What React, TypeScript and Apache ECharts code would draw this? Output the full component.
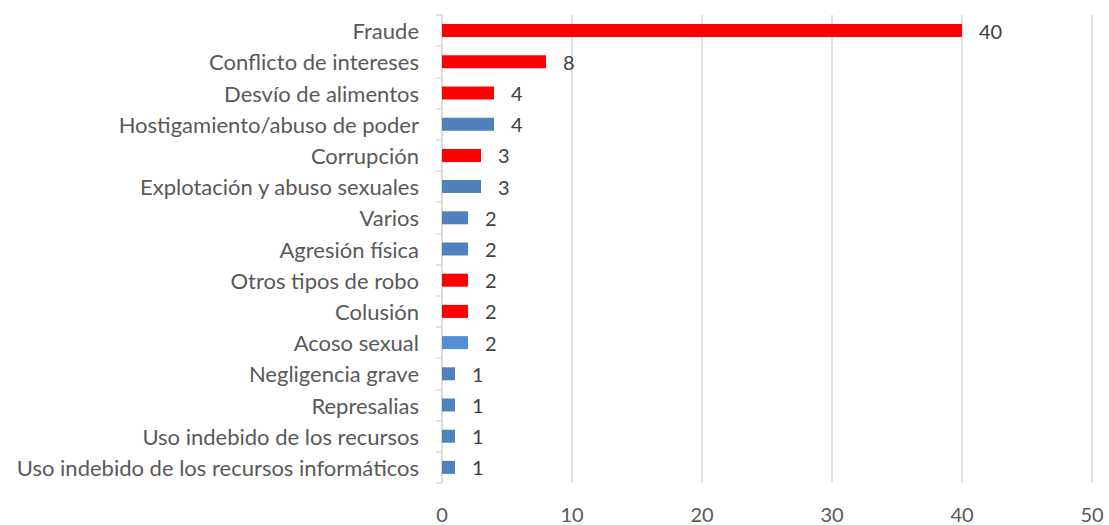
import React, { useEffect, useRef } from "react";
import * as echarts from "echarts";

const categories = [
  "Fraude",
  "Conflicto de intereses",
  "Desvío de alimentos",
  "Hostigamiento/abuso de poder",
  "Corrupción",
  "Explotación y abuso sexuales",
  "Varios",
  "Agresión física",
  "Otros tipos de robo",
  "Colusión",
  "Acoso sexual",
  "Negligencia grave",
  "Represalias",
  "Uso indebido de los recursos",
  "Uso indebido de los recursos informáticos",
];
const values = [40, 8, 4, 4, 3, 3, 2, 2, 2, 2, 2, 1, 1, 1, 1];
const colors = [
  "#FF0000", "#FF0000", "#FF0000", "#4F81BD", "#FF0000", "#4F81BD", "#4F81BD",
  "#4F81BD", "#FF0000", "#FF0000", "#558ED5", "#4F81BD", "#4F81BD", "#4F81BD", "#4F81BD",
];
const xTicks = [0, 10, 20, 30, 40, 50];

export default function App() {
  const ref = useRef<HTMLDivElement>(null);
  useEffect(() => {
    const chart = echarts.init(ref.current!, null, { renderer: "svg" });
    chart.setOption({
      animation: false,
      grid: { left: 442, right: 17, top: 15, bottom: 42, containLabel: false },
      xAxis: {
        type: "value",
        min: xTicks[0],
        max: xTicks[xTicks.length - 1],
        interval: 10,
        axisLine: { show: false },
        axisTick: { show: false },
        splitLine: { show: true, lineStyle: { color: "#D9D9D9", width: 1.5 } },
        axisLabel: { color: "#595959", fontSize: 20, fontFamily: "Lato", margin: 21 },
      },
      yAxis: {
        type: "category",
        inverse: true,
        data: categories,
        axisLine: { show: true, lineStyle: { color: "#D9D9D9", width: 1.5 } },
        axisTick: { show: true, length: 6, lineStyle: { color: "#D9D9D9", width: 1.5 } },
        axisLabel: { color: "#595959", fontSize: 22, fontFamily: "Lato", margin: 23 },
      },
      series: [
        {
          type: "bar",
          data: values.map((v, i) => ({ value: v, itemStyle: { color: colors[i] } })),
          barWidth: 13,
          label: {
            show: true,
            position: "right",
            distance: 17,
            color: "#404040",
            fontSize: 20,
            fontFamily: "Lato",
          },
        },
      ],
    });
    return () => chart.dispose();
  }, []);
  return (
    <div
      ref={ref}
      style={{ width: 1109, height: 525, position: "absolute", left: 0, top: 0, background: "#fff" }}
    />
  );
}
